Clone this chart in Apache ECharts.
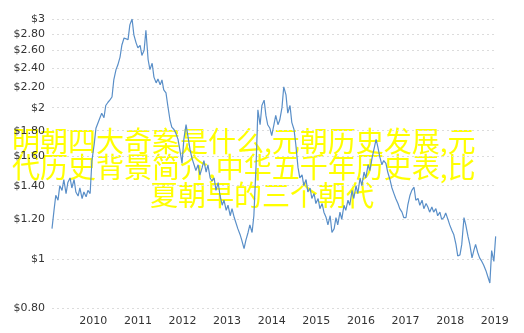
<!DOCTYPE html>
<html><head><meta charset="utf-8">
<script src="https://cdn.jsdelivr.net/npm/echarts@6/dist/echarts.min.js"></script>
<style>html,body{margin:0;padding:0;background:#fff}#c{width:524px;height:333px}</style>
</head><body><div id="c"></div>
<script>
// decimal-year dates and prices
const dates = [2009.075,2009.12,2009.16,2009.21,2009.25,2009.30,2009.34,2009.39,2009.43,2009.48,2009.52,2009.57,2009.61,2009.66,2009.70,2009.75,2009.79,2009.84,2009.88,2009.93,2009.97,
2010.02,2010.06,2010.10,2010.15,2010.19,2010.24,2010.28,2010.33,2010.37,2010.42,2010.46,2010.51,2010.55,2010.60,2010.64,2010.69,2010.73,2010.78,2010.82,2010.87,2010.91,2010.96,
2011.00,2011.05,2011.09,2011.14,2011.18,2011.23,2011.27,2011.32,2011.36,2011.41,2011.45,2011.50,2011.54,2011.58,2011.63,2011.67,2011.72,2011.76,2011.81,2011.85,2011.90,2011.94,2011.99,
2012.03,2012.08,2012.12,2012.17,2012.21,2012.26,2012.30,2012.35,2012.39,2012.44,2012.48,2012.53,2012.57,2012.62,2012.66,2012.71,2012.75,2012.80,2012.84,2012.89,2012.93,2012.98,
2013.02,2013.07,2013.11,2013.16,2013.20,2013.24,2013.29,2013.33,2013.38,2013.42,2013.47,2013.51,2013.56,2013.60,2013.65,2013.69,2013.74,2013.78,2013.83,2013.87,2013.91,2013.96,
2014.00,2014.05,2014.09,2014.14,2014.18,2014.23,2014.27,2014.32,2014.36,2014.41,2014.45,2014.50,2014.54,2014.59,2014.63,2014.68,2014.72,2014.77,2014.81,2014.86,2014.90,2014.95,2014.99,
2015.04,2015.08,2015.13,2015.17,2015.22,2015.26,2015.31,2015.35,2015.40,2015.44,2015.48,2015.53,2015.57,2015.62,2015.66,2015.71,2015.75,2015.80,2015.84,2015.89,2015.93,2015.98,
2016.02,2016.07,2016.11,2016.16,2016.20,2016.25,2016.29,2016.34,2016.38,2016.42,2016.47,2016.51,2016.56,2016.60,2016.65,2016.69,2016.74,2016.78,2016.83,2016.87,2016.92,2016.96,
2017.01,2017.05,2017.10,2017.14,2017.19,2017.23,2017.28,2017.32,2017.37,2017.41,2017.46,2017.50,2017.54,2017.59,2017.63,2017.68,2017.72,2017.77,2017.81,2017.86,2017.90,2017.95,2017.99,
2018.04,2018.08,2018.13,2018.17,2018.22,2018.26,2018.31,2018.35,2018.40,2018.44,2018.49,2018.53,2018.57,2018.62,2018.66,2018.71,2018.75,2018.80,2018.84,2018.89,2018.93,2018.98,2019.02];
const prices = [1.15,1.25,1.34,1.31,1.40,1.37,1.44,1.35,1.42,1.45,1.385,1.44,1.36,1.335,1.385,1.32,1.36,1.33,1.37,1.35,1.57,
1.69,1.82,1.81,1.91,1.95,1.91,2.02,2.05,2.07,2.10,2.27,2.38,2.43,2.52,2.66,2.75,2.76,2.73,2.92,3.00,2.79,2.69,
2.63,2.66,2.54,2.60,2.85,2.49,2.38,2.45,2.30,2.24,2.28,2.22,2.27,2.17,2.14,2.02,1.89,1.83,1.81,1.78,1.73,1.65,1.55,
1.73,1.85,1.76,1.65,1.59,1.54,1.50,1.54,1.47,1.52,1.57,1.49,1.54,1.45,1.43,1.45,1.37,1.42,1.34,1.28,1.31,1.25,
1.28,1.22,1.26,1.21,1.22,1.15,1.12,1.09,1.05,1.09,1.13,1.17,1.13,1.22,1.54,1.98,1.85,2.02,2.07,1.93,1.85,1.82,
1.76,1.85,1.93,1.85,1.89,2.00,2.20,2.12,1.95,2.02,1.87,1.81,1.69,1.52,1.45,1.47,1.40,1.44,1.36,1.385,1.32,1.35,1.29,
1.32,1.26,1.29,1.24,1.21,1.17,1.22,1.13,1.15,1.21,1.17,1.24,1.20,1.28,1.25,1.31,1.28,1.37,1.32,1.40,1.35,1.45,
1.40,1.49,1.45,1.54,1.50,1.59,1.65,1.73,1.67,1.60,1.54,1.57,1.55,1.49,1.44,1.39,1.35,1.32,1.29,1.26,1.24,1.21,
1.21,1.28,1.34,1.37,1.39,1.31,1.32,1.28,1.31,1.26,1.29,1.27,1.24,1.27,1.24,1.26,1.22,1.24,1.20,1.21,1.235,1.20,1.17,
1.14,1.12,1.07,1.015,1.02,1.07,1.21,1.17,1.11,1.07,1.006,1.04,1.07,1.03,1.006,0.99,0.974,0.95,0.926,0.897,1.04,0.99,1.11];
const yTicks = [0.8,1,1.2,1.4,1.6,1.8,2,2.2,2.4,2.6,2.8,3];
const xTicks = [2010,2011,2012,2013,2014,2015,2016,2017,2018,2019];
const overlayLines = ['明朝四大奇案是什么,元朝历史发展,元','代历史背景简介,中华五千年历史表,比','夏朝早的三个朝代'];

const chart = echarts.init(document.getElementById('c'), null, {renderer:'canvas'});
const fmtY = v => '$' + (Math.abs(v - Math.round(v)) < 1e-9 ? String(Math.round(v)) : v.toFixed(2));
const overlayFont = '28px "Noto Sans CJK SC"';
chart.setOption({
  animation:false,
  grid:{left:52,right:27,top:19,bottom:25},
  xAxis:{type:'value',min:2009.075,max:2019.05,
    axisLine:{show:false},axisTick:{show:false},splitLine:{show:false},
    axisLabel:{customValues:xTicks,formatter:v=>String(Math.round(v)),color:'#333',fontSize:11,fontFamily:'DejaVu Sans',margin:8}},
  yAxis:{type:'log',logBase:10,min:0.8,max:3,
    axisLine:{show:false},
    axisTick:{show:false,customValues:yTicks},
    axisLabel:{customValues:yTicks,formatter:fmtY,color:'#333',fontSize:11,fontFamily:'DejaVu Sans',margin:7},
    splitLine:{show:true,lineStyle:{color:'#dcdcdc',type:[2,3],width:1}}},
  series:[{type:'line',data:dates.map((d,i)=>[d,prices[i]]),showSymbol:false,
    lineStyle:{color:'#5a8fc8',width:1.2},itemStyle:{color:'#5a8fc8'}}],
  graphic:[
    {type:'text',x:12,y:127,style:{text:overlayLines[0],fill:'#ffff00',font:overlayFont}},
    {type:'text',x:12,y:153,style:{text:overlayLines[1],fill:'#ffff00',font:overlayFont}},
    {type:'text',x:262,y:181,style:{text:overlayLines[2],fill:'#ffff00',font:overlayFont,align:'center'}}
  ]
});
</script></body></html>
